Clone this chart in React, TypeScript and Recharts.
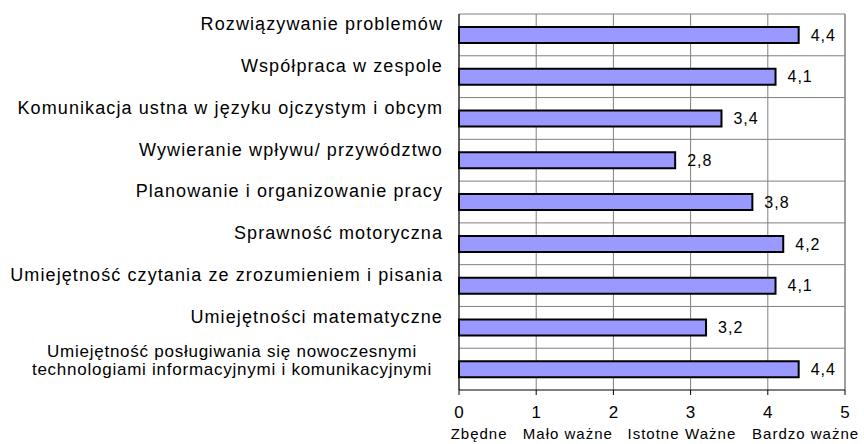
import { BarChart, Bar, XAxis, YAxis, CartesianGrid, LabelList, ReferenceLine } from 'recharts'

const SKILLS = [
  'Rozwiązywanie problemów',
  'Współpraca w zespole',
  'Komunikacja ustna w języku ojczystym i obcym',
  'Wywieranie wpływu/ przywództwo',
  'Planowanie i organizowanie pracy',
  'Sprawność motoryczna',
  'Umiejętność czytania ze zrozumieniem i pisania',
  'Umiejętności matematyczne',
  'Umiejętność posługiwania się nowoczesnymi\ntechnologiami informacyjnymi i komunikacyjnymi',
]

const SCORES = [4.4, 4.1, 3.4, 2.8, 3.8, 4.2, 4.1, 3.2, 4.4]

const X_TICKS = [0, 1, 2, 3, 4, 5]

// opisowa skala pod osią
const LEVEL_NAMES = ['Zbędne', 'Mało ważne', 'Istotne', 'Ważne', 'Bardzo ważne']
const LEVEL_POS = [0.26, 1.41, 2.52, 3.26, 4.49]

const FONT = 'Liberation Sans, Arial, sans-serif'

const data = SKILLS.map((name, i) => ({ name, value: SCORES[i] }))

function SkillTick(props: any) {
  const { x, y, payload } = props
  const lines = String(payload.value).split('\n')
  const right = x - 8
  if (lines.length > 1) {
    // dwulinijkowa etykieta, wyśrodkowana jak w oryginale
    const cx = right - 211
    return (
      <text
        x={cx}
        y={y - 12}
        textAnchor="middle"
        fontSize={17}
        letterSpacing={0.75}
        fill="#000"
        fontFamily={FONT}
      >
        {lines.map((line, i) => (
          <tspan key={i} x={cx} dy={i === 0 ? 0 : 18}>
            {line}
          </tspan>
        ))}
      </text>
    )
  }
  return (
    <text
      x={right}
      y={y - 11}
      dy="0.35em"
      textAnchor="end"
      fontSize={18}
      letterSpacing={1.1}
      fill="#000"
      fontFamily={FONT}
    >
      {lines[0]}
    </text>
  )
}

function LevelsLabel(props: any) {
  const vb = props.viewBox
  if (!vb) return null
  return (
    <g>
      {LEVEL_NAMES.map((name, i) => (
        <text
          key={name}
          x={vb.x + (LEVEL_POS[i] / 5) * vb.width}
          y={vb.y + 44}
          dy="0.35em"
          textAnchor="middle"
          fontSize={15}
          letterSpacing={1}
          fill="#000"
          fontFamily={FONT}
        >
          {name}
        </text>
      ))}
    </g>
  )
}

export default function App() {
  return (
    <div style={{ position: 'absolute', left: 0, top: 0, width: 864, height: 444, background: '#fff' }}>
      <BarChart
        width={864}
        height={444}
        data={data}
        layout="vertical"
        margin={{ top: 14, right: 19, bottom: 0, left: 0 }}
        barSize={16}
      >
        <CartesianGrid
          stroke="#808080"
          strokeWidth={1}
          horizontalCoordinatesGenerator={({ offset }: any) =>
            SKILLS.map((_, i) => offset.top + (i * offset.height) / SKILLS.length)
          }
        />
        <XAxis
          type="number"
          domain={[0, 5]}
          ticks={X_TICKS}
          axisLine={{ stroke: '#000' }}
          tickLine={{ stroke: '#000' }}
          tickSize={5}
          tickMargin={11}
          tick={{ fill: '#000', fontSize: 17, fontFamily: FONT }}
          height={54}
          interval={0}
          label={<LevelsLabel />}
        />
        <YAxis
          type="category"
          dataKey="name"
          width={459}
          axisLine={{ stroke: '#000' }}
          tickLine={false}
          tick={<SkillTick />}
          interval={0}
        />
        <ReferenceLine x={5} stroke="#808080" />
        <Bar dataKey="value" fill="#9999FF" stroke="#000" strokeWidth={2} isAnimationActive={false}>
          <LabelList
            dataKey="value"
            position="right"
            offset={12}
            formatter={(v: any) => String(v).replace('.', ',')}
            style={{ fill: '#000', fontSize: 16, letterSpacing: 1, fontFamily: FONT }}
          />
        </Bar>
      </BarChart>
    </div>
  )
}
